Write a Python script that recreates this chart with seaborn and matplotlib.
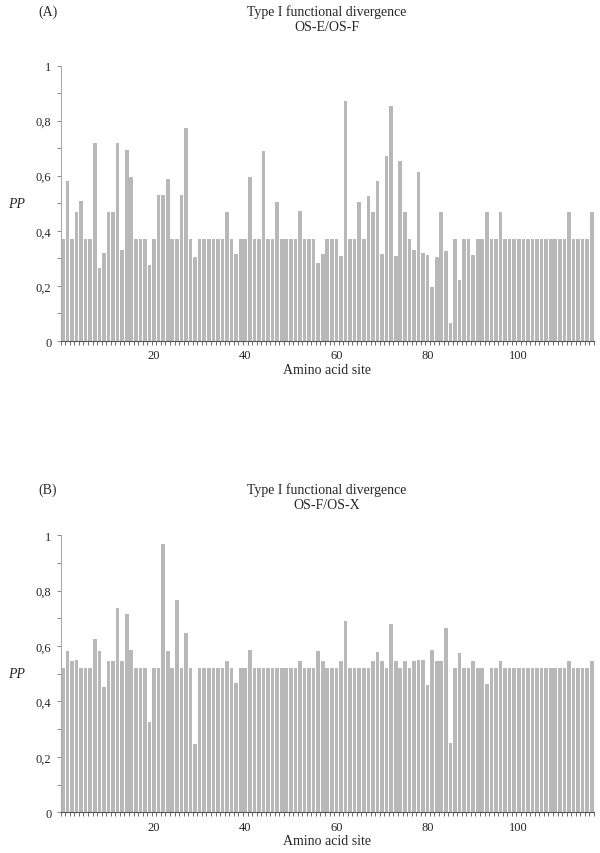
import numpy as np
import pandas as pd
import matplotlib.pyplot as plt
import seaborn as sns
from matplotlib.ticker import MultipleLocator, FixedLocator, FuncFormatter

# PP por sitio, panel A (OS-E/OS-F), 117 sitios
pp_a = [0.37, 0.58, 0.37, 0.47, 0.51, 0.37, 0.37, 0.72, 0.265, 0.32,
        0.47, 0.47, 0.717, 0.33, 0.695, 0.595, 0.37, 0.37, 0.37, 0.275,
        0.37, 0.53, 0.53, 0.587, 0.37, 0.37, 0.53, 0.773, 0.37, 0.304,
        0.37, 0.37, 0.37, 0.37, 0.37, 0.37, 0.47, 0.37, 0.316, 0.37,
        0.37, 0.594, 0.37, 0.37, 0.69, 0.37, 0.37, 0.506, 0.37, 0.37,
        0.37, 0.37, 0.472, 0.37, 0.37, 0.37, 0.284, 0.315, 0.37, 0.37,
        0.37, 0.309, 0.872, 0.37, 0.37, 0.506, 0.37, 0.527, 0.467, 0.582,
        0.315, 0.67, 0.852, 0.309, 0.653, 0.47, 0.37, 0.329, 0.613, 0.318,
        0.312, 0.195, 0.306, 0.47, 0.325, 0.065, 0.37, 0.221, 0.37, 0.37,
        0.313, 0.37, 0.37, 0.47, 0.37, 0.37, 0.47, 0.37, 0.37, 0.37,
        0.37, 0.37, 0.37, 0.37, 0.37, 0.37, 0.37, 0.37, 0.37, 0.37,
        0.37, 0.47, 0.37, 0.37, 0.37, 0.37, 0.47]

# PP por sitio, panel B (OS-F/OS-X)
pp_b = [0.521, 0.581, 0.547, 0.55, 0.521, 0.521, 0.521, 0.626, 0.583, 0.453,
        0.547, 0.547, 0.739, 0.547, 0.715, 0.587, 0.521, 0.521, 0.521, 0.327,
        0.521, 0.521, 0.967, 0.583, 0.521, 0.766, 0.521, 0.646, 0.521, 0.245,
        0.521, 0.521, 0.521, 0.521, 0.521, 0.521, 0.547, 0.521, 0.467, 0.521,
        0.521, 0.586, 0.521, 0.521, 0.521, 0.521, 0.521, 0.521, 0.521, 0.521,
        0.521, 0.521, 0.547, 0.521, 0.521, 0.521, 0.581, 0.547, 0.521, 0.521,
        0.521, 0.547, 0.69, 0.521, 0.521, 0.521, 0.521, 0.521, 0.547, 0.58,
        0.547, 0.521, 0.68, 0.547, 0.521, 0.547, 0.521, 0.547, 0.55, 0.55,
        0.46, 0.585, 0.547, 0.547, 0.664, 0.251, 0.521, 0.576, 0.521, 0.521,
        0.547, 0.521, 0.521, 0.463, 0.521, 0.521, 0.547, 0.521, 0.521, 0.521,
        0.521, 0.521, 0.521, 0.521, 0.521, 0.521, 0.521, 0.521, 0.521, 0.521,
        0.521, 0.547, 0.521, 0.521, 0.521, 0.521, 0.547]

sitios = list(range(len(pp_a)))
etiquetas_x = [20, 40, 60, 80, 100]
etiquetas_y = ['0', '0,2', '0,4', '0,6', '0,8', '1']

sns.set_style('white')
plt.rcParams['font.family'] = ['Liberation Serif', 'DejaVu Serif']

fig = plt.figure(figsize=(6, 8.54), dpi=100)

paneles = [
    ('(A)', 'Type I functional divergence\nOS-E/OS-F', pp_a, [0.101, 0.5995, 0.889, 0.3226], 0.994),
    ('(B)', 'Type I functional divergence\nOS-F/OS-X', pp_b, [0.101, 0.0477, 0.889, 0.3244], 0.434),
]

for letra, titulo, valores, pos, ytit in paneles:
    ax = fig.add_axes(pos)
    df = pd.DataFrame({'Sitio': sitios, 'PP': valores})
    sns.barplot(data=df, x='Sitio', y='PP', color='#B8B8B8', saturation=1,
                width=0.8, linewidth=0, ax=ax)
    ax.set_xlim(-0.5, len(valores) - 0.5)
    ax.set_ylim(0, 1)
    ax.xaxis.set_major_locator(FixedLocator(etiquetas_x))
    ax.xaxis.set_major_formatter(FuncFormatter(lambda v, p: str(int(v))))
    ax.xaxis.set_minor_locator(FixedLocator(np.arange(-0.5, len(valores), 1.0)))
    ax.set_yticks([0, 0.2, 0.4, 0.6, 0.8, 1.0])
    ax.set_yticklabels(etiquetas_y)
    ax.yaxis.set_minor_locator(MultipleLocator(0.1))
    ax.tick_params(axis='x', which='major', length=0, pad=6, labelsize=9)
    ax.tick_params(axis='x', which='minor', length=3, width=0.6, color='#555555',
                   direction='out', bottom=True)
    ax.tick_params(axis='y', which='both', length=3, width=0.6, color='#777777',
                   direction='out', left=True, labelsize=9)
    for lado in ['top', 'right']:
        ax.spines[lado].set_visible(False)
    ax.spines['left'].set_color('#AAAAAA')
    ax.spines['bottom'].set_color('#555555')
    ax.spines['left'].set_linewidth(0.8)
    ax.spines['bottom'].set_linewidth(0.8)
    ax.set_xlabel('Amino acid site', fontsize=10, labelpad=1)
    ax.set_ylabel('PP', fontsize=10, style='italic', rotation=0, labelpad=14, va='center')
    fig.text(0.08, ytit, letra, fontsize=10, ha='center', va='top')
    fig.text(0.545, ytit, titulo, fontsize=10, ha='center', va='top', linespacing=1.2)

plt.savefig('out.png', dpi=100)
